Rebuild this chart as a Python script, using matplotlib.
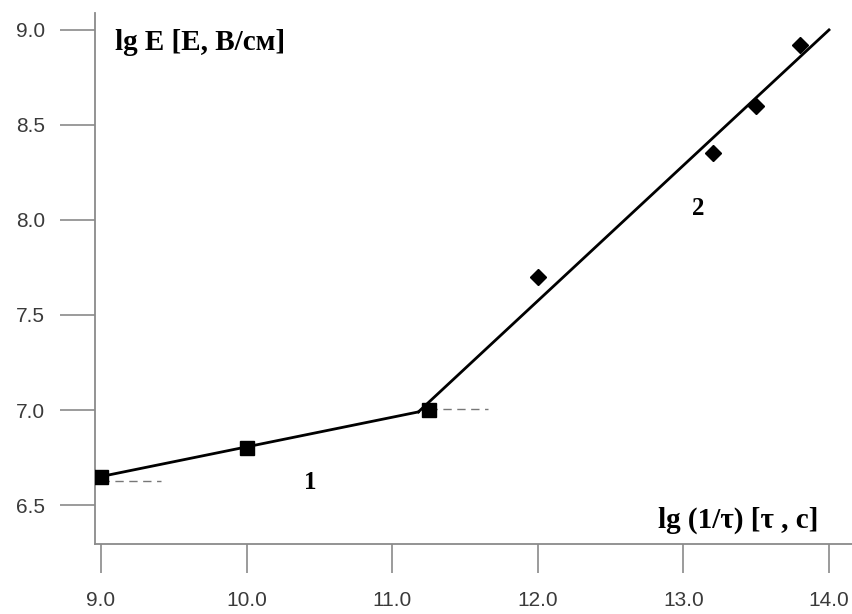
import matplotlib.pyplot as plt

# =====================================================
# DATA
# =====================================================
sq_x = [9.0, 10.0, 11.25]
sq_y = [6.65, 6.80, 7.00]

dia_x = [12.0, 13.2, 13.5, 13.8]
dia_y = [7.70, 8.35, 8.60, 8.92]

fit1_x = [9.0, 11.18]
fit1_y = [6.65, 6.99]
fit2_x = [11.18, 14.0]
fit2_y = [6.99, 9.0]

dash1_x = [9.0, 9.41]
dash1_y = [6.625, 6.625]
dash2_x = [11.25, 11.66]
dash2_y = [7.005, 7.005]

xticks = [9.0, 10.0, 11.0, 12.0, 13.0, 14.0]
yticks = [6.5, 7.0, 7.5, 8.0, 8.5, 9.0]

# =====================================================
# FIGURE
# =====================================================
fig = plt.figure(figsize=(8.52, 6.14), dpi=100)
ax = fig.add_axes([95 / 852, 70 / 614, (852 - 95) / 852, (544 - 13) / 614])

gray = "#8a8a8a"

ax.plot(fit1_x, fit1_y, color="black", lw=2.0, zorder=3)
ax.plot(fit2_x, fit2_y, color="black", lw=2.0, zorder=3)
ax.plot(dash1_x, dash1_y, color="#777777", lw=1.0, ls=(0, (6, 4)), zorder=2)
ax.plot(dash2_x, dash2_y, color="#777777", lw=1.0, ls=(0, (6, 4)), zorder=2)

ax.plot(sq_x, sq_y, ls="none", marker="s", ms=10, color="black", zorder=4)
ax.plot(dia_x, dia_y, ls="none", marker="D", ms=8, color="black", zorder=4)

ax.set_xlim(8.959, 14.158)
ax.set_ylim(6.295, 9.089)
ax.set_xticks(xticks)
ax.set_yticks(yticks)
ax.set_xticklabels([f"{v:.1f}" for v in xticks])
ax.set_yticklabels([f"{v:.1f}" for v in yticks])

for s in ["top", "right"]:
    ax.spines[s].set_visible(False)
for s in ["left", "bottom"]:
    ax.spines[s].set_color(gray)
    ax.spines[s].set_linewidth(1.3)

ax.tick_params(axis="x", direction="out", length=21, width=1.2, color=gray,
               pad=13, labelsize=15, labelcolor="#3a3a3a")
ax.tick_params(axis="y", direction="out", length=25, width=1.2, color=gray,
               pad=11, labelsize=15, labelcolor="#3a3a3a")
for lab in ax.get_xticklabels() + ax.get_yticklabels():
    lab.set_fontfamily("Liberation Sans")

serif = dict(fontfamily="Liberation Serif", fontweight="bold", color="black")
ax.text(0.027, 0.945, "lg E [E, В/см]", transform=ax.transAxes,
        fontsize=21, va="center", ha="left", **serif)
ax.text(0.955, 0.045, "lg (1/τ) [τ , с]", transform=ax.transAxes,
        fontsize=21, va="center", ha="right", **serif)
ax.text(10.44, 6.62, "1", fontsize=18, ha="center", va="center", **serif)
ax.text(13.1, 8.06, "2", fontsize=18, ha="center", va="center", **serif)

plt.savefig("out.png", dpi=100)
plt.close()
